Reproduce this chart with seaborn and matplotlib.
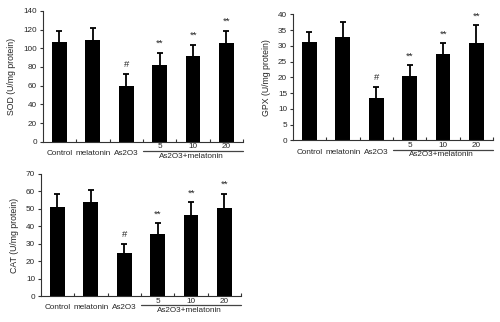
import matplotlib
matplotlib.use('Agg')
import matplotlib.pyplot as plt
from matplotlib.transforms import offset_copy
import seaborn as sns
import pandas as pd
import numpy as np

# data
groups = ['Control', 'melatonin', 'As2O3', '5', '10', '20']
sod_mean = [107, 109, 60, 82, 92, 106]
sod_err = [11, 13, 12.5, 13, 12, 13]
gpx_mean = [31.4, 33.0, 13.5, 20.4, 27.3, 31.1]
gpx_err = [3.1, 4.5, 3.5, 3.5, 3.6, 5.5]
cat_mean = [51.2, 53.9, 24.5, 35.4, 46.5, 50.3]
cat_err = [7.3, 7.1, 5.2, 6.3, 7.2, 8.2]
marks = ['', '', '#', '**', '**', '**']
group_label = 'As2O3+melatonin'

sns.set_style('ticks')
plt.rcParams['font.family'] = ['Liberation Sans', 'DejaVu Sans']

fs = 5.9


def panel(ax, mean, err, ylabel, ymax, ystep):
    df = pd.DataFrame({'group': groups, 'value': mean})
    sns.barplot(data=df, x='group', y='value', order=groups, color='black',
                saturation=1, width=0.44, errorbar=None, linewidth=0, ax=ax)
    x = np.arange(len(groups))
    top = np.array(mean) + np.array(err)
    # upper error bars only
    ax.vlines(x, mean, top, color='black', lw=1.3)
    ax.hlines(top, x - 0.09, x + 0.09, color='black', lw=1.3)
    for xi, t, s in zip(x, top, marks):
        if s:
            ax.annotate(s, (xi, t), xytext=(0, 3.5), textcoords='offset points',
                        ha='center', va='bottom', fontsize=6.8)
    ax.set_xlim(-0.5, len(groups) - 0.5)
    ax.set_ylim(0, ymax)
    ax.set_yticks(np.arange(0, ymax + 0.1, ystep))
    ax.set_xticks(np.arange(0.5, len(groups), 1))
    ax.set_xticklabels([])
    ax.tick_params(axis='x', direction='in', length=2.5, width=0.8, color='#333333')
    ax.tick_params(axis='y', direction='out', length=2, width=0.8, color='#333333',
                   labelsize=fs, pad=2)
    ax.set_xlabel('')
    ax.set_ylabel(ylabel, fontsize=6.3, labelpad=5)
    sns.despine(ax=ax)
    for sp in ['left', 'bottom']:
        ax.spines[sp].set_linewidth(0.8)
        ax.spines[sp].set_color('#333333')
    # category labels
    for i, g in enumerate(groups):
        dy = -8.6 if i < 3 else -3.6
        ax.annotate(g, (i, 0), xycoords=('data', 'axes fraction'),
                    xytext=(0, dy), textcoords='offset points',
                    ha='center', va='center', fontsize=fs)
    # group line and label
    ltrans = offset_copy(ax.get_xaxis_transform(), fig=ax.figure, x=0, y=-6.8, units='points')
    ax.plot([2.5, 5.5], [0, 0], transform=ltrans, color='#444444', lw=0.9, clip_on=False)
    ax.annotate(group_label, (3.95, 0), xycoords=('data', 'axes fraction'),
                xytext=(0, -10.5), textcoords='offset points',
                ha='center', va='center', fontsize=fs)


fig = plt.figure(figsize=(5, 3.22), dpi=100)
ax1 = fig.add_axes([0.0854, 0.560, 0.401, 0.406])
ax2 = fig.add_axes([0.5854, 0.564, 0.401, 0.391])
ax3 = fig.add_axes([0.0814, 0.0807, 0.401, 0.379])

panel(ax1, sod_mean, sod_err, 'SOD (U/mg protein)', 140, 20)
panel(ax2, gpx_mean, gpx_err, 'GPX (U/mg protein)', 40, 5)
panel(ax3, cat_mean, cat_err, 'CAT (U/mg protein)', 70, 10)

fig.savefig('out.png', dpi=100)
